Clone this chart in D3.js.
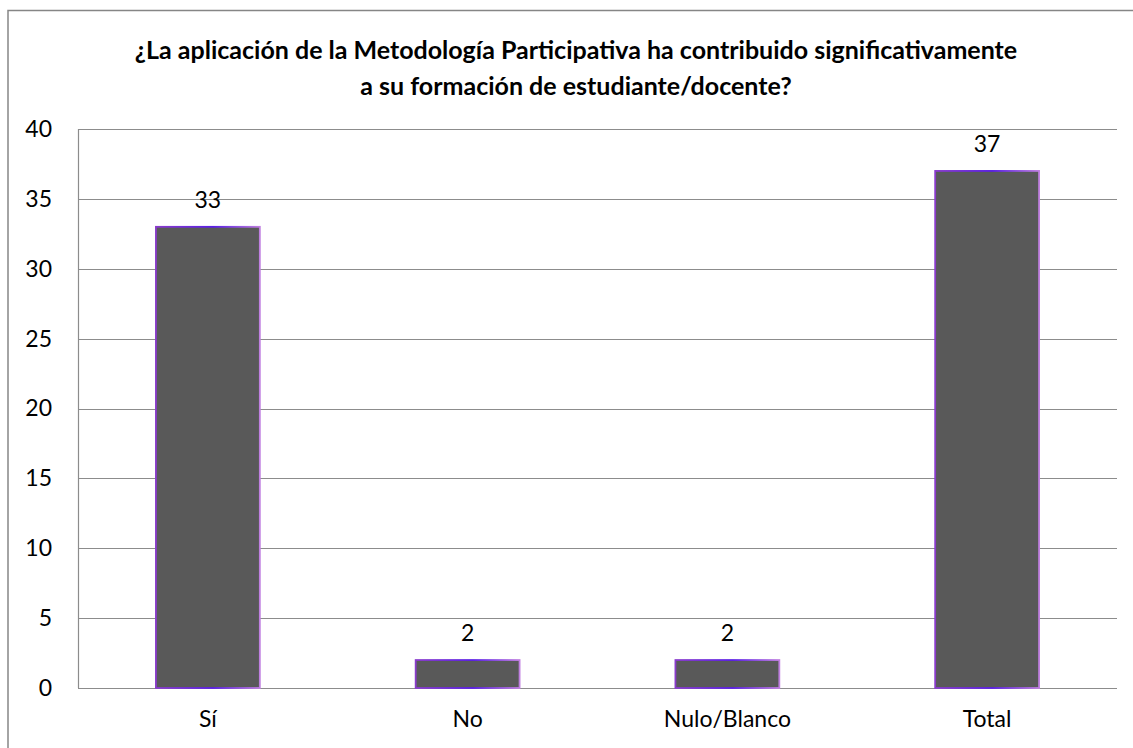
<!DOCTYPE html>
<html>
<head>
<meta charset="utf-8">
<script src="https://cdn.jsdelivr.net/npm/d3@7"></script>
<style>
  body { margin: 0; background: #fff; }
  svg { display: block; }
</style>
</head>
<body>
<div id="vis"></div>
<script>
var categories = ["Sí", "No", "Nulo/Blanco", "Total"];
var values = [33, 2, 2, 37];
var yTicks = [0, 5, 10, 15, 20, 25, 30, 35, 40];
var titleLines = [
  "¿La aplicación de la Metodología Participativa ha contribuido significativamente",
  "a su formación de estudiante/docente?"
];

function draw() {
  var width = 1133, height = 748;
  var left = 78, right = 1117, top = 129, bottom = 688;
  var font = "Lato, 'Open Sans', sans-serif";

  var svg = d3.select("#vis").append("svg")
              .attr("width", width)
              .attr("height", height);

  var defs = svg.append("defs");
  var grad = defs.append("linearGradient")
                 .attr("id", "edge")
                 .attr("x1", "0%").attr("x2", "100%")
                 .attr("y1", "0%").attr("y2", "0%");
  grad.append("stop").attr("offset", "0%").attr("stop-color", "#8a3ccc");
  grad.append("stop").attr("offset", "55%").attr("stop-color", "#5a1ee6");
  grad.append("stop").attr("offset", "100%").attr("stop-color", "#c07fe0");

  // chart frame (only top and left edges visible)
  svg.append("path")
     .attr("d", "M8,748 V10.5 H1133")
     .attr("fill", "none")
     .attr("stroke", "#868686")
     .attr("stroke-width", 1.5);

  var x = d3.scaleBand()
            .domain(categories)
            .range([left, right])
            .paddingInner(0.6)
            .paddingOuter(0.3);

  var y = d3.scaleLinear()
            .domain([0, 40])
            .range([bottom, top]);

  // gridlines
  svg.append("g").selectAll("line")
     .data(yTicks)
     .enter().append("line")
     .attr("x1", left).attr("x2", right)
     .attr("y1", function(d) { return Math.round(y(d)) + 0.5; })
     .attr("y2", function(d) { return Math.round(y(d)) + 0.5; })
     .attr("stroke", "#8c8c8c")
     .attr("stroke-width", 1.2);

  // y axis line
  svg.append("line")
     .attr("x1", left + 0.5).attr("x2", left + 0.5)
     .attr("y1", y(40)).attr("y2", y(0))
     .attr("stroke", "#8c8c8c")
     .attr("stroke-width", 1.2);

  var yAxis = d3.axisLeft(y).tickValues(yTicks).tickSize(0).tickPadding(26);
  var gy = svg.append("g")
              .attr("transform", "translate(" + left + ",0)")
              .call(yAxis);
  gy.select(".domain").remove();
  gy.selectAll("text")
    .attr("font-family", font)
    .attr("font-size", 23)
    .attr("fill", "#000");

  var xAxis = d3.axisBottom(x).tickSize(0).tickPadding(23);
  var gx = svg.append("g")
              .attr("transform", "translate(0," + bottom + ")")
              .call(xAxis);
  gx.select(".domain").remove();
  gx.selectAll("text")
    .attr("font-family", font)
    .attr("font-size", 23)
    .attr("fill", "#000");

  var data = categories.map(function(c, i) { return { cat: c, val: values[i] }; });

  svg.append("g").selectAll("rect")
     .data(data)
     .enter().append("rect")
     .attr("x", function(d) { return x(d.cat); })
     .attr("y", function(d) { return y(d.val); })
     .attr("width", x.bandwidth())
     .attr("height", function(d) { return y(0) - y(d.val); })
     .attr("fill", "#595959")
     .attr("stroke", "url(#edge)")
     .attr("stroke-width", 1.8);

  svg.append("g").selectAll("text")
     .data(data)
     .enter().append("text")
     .attr("x", function(d) { return x(d.cat) + x.bandwidth() / 2; })
     .attr("y", function(d) { return y(d.val) - 19; })
     .attr("text-anchor", "middle")
     .attr("font-family", font)
     .attr("font-size", 23)
     .attr("fill", "#000")
     .text(function(d) { return d.val; });

  svg.append("g").selectAll("text")
     .data(titleLines)
     .enter().append("text")
     .attr("x", 576)
     .attr("y", function(d, i) { return 59 + i * 36; })
     .attr("text-anchor", "middle")
     .attr("font-family", font)
     .attr("font-weight", "bold")
     .attr("font-size", 25)
     .attr("fill", "#000")
     .text(function(d) { return d; });
}

draw();
</script>
</body>
</html>
